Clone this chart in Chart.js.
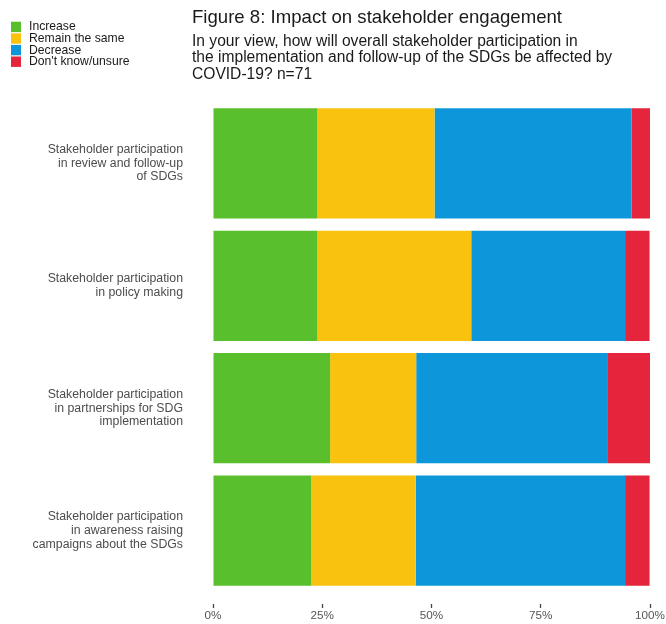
<!DOCTYPE html>
<html>
<head>
<meta charset="utf-8">
<title>Figure 8: Impact on stakeholder engagement</title>
<script src="https://cdn.jsdelivr.net/npm/chart.js@4/dist/chart.umd.min.js"></script>
<style>
  html, body { margin: 0; padding: 0; background: #fff; }
  #wrap { position: relative; width: 666px; height: 624px; }
</style>
</head>
<body>
<div id="wrap"><canvas id="chart"></canvas></div>
<script>
// Categories (top to bottom) and share of answers in % (n=71)
const categories = [
  ['Stakeholder participation', 'in review and follow-up', 'of SDGs'],
  ['Stakeholder participation', 'in policy making'],
  ['Stakeholder participation', 'in partnerships for SDG', 'implementation'],
  ['Stakeholder participation', 'in awareness raising', 'campaigns about the SDGs']
];
const increase = [23.9, 23.9, 26.8, 22.5];
const remainSame = [26.8, 35.2, 19.7, 23.9];
const decrease = [45.1, 35.2, 43.7, 47.9];
const unsure = [4.2, 5.6, 9.9, 5.6];

const seriesNames = ['Increase', 'Remain the same', 'Decrease', "Don't know/unsure"];
const seriesColors = ['#5ABF2C', '#F9C20E', '#0D97DA', '#E4253B'];
const xTicks = [0, 25, 50, 75, 100];

const titleText = 'Figure 8: Impact on stakeholder engagement';
const subtitleLines = [
  'In your view, how will overall stakeholder participation in',
  'the implementation and follow-up of the SDGs be affected by',
  'COVID-19? n=71'
];

const FONT = '"Liberation Sans", Arial, sans-serif';

function toPoints(values) {
  return values.map((v, i) => ({ x: v, y: i }));
}

const allSeries = [increase, remainSame, decrease, unsure];
const datasets = allSeries.map((values, i) => ({
  label: seriesNames[i],
  data: toPoints(values),
  backgroundColor: seriesColors[i],
  borderWidth: 0,
  barPercentage: 0.9,
  categoryPercentage: 1.0
}));

// Title, subtitle and the vertical legend in the top strip
const headerPlugin = {
  id: 'header',
  afterDraw(chart) {
    const ctx = chart.ctx;
    ctx.save();
    ctx.textAlign = 'left';
    ctx.textBaseline = 'alphabetic';
    ctx.fillStyle = '#1a1a1a';
    ctx.font = '18.6px ' + FONT;
    ctx.fillText(titleText, 192, 22.5);
    ctx.font = '15.6px ' + FONT;
    subtitleLines.forEach((line, i) => {
      ctx.fillText(line, 192, 45.7 + i * 16.65);
    });

    ctx.font = '12.2px ' + FONT;
    ctx.textBaseline = 'middle';
    chart.data.datasets.forEach((ds, i) => {
      const top = 21.7 + i * 11.6;
      ctx.fillStyle = ds.backgroundColor;
      ctx.fillRect(11, top, 10, 10.4);
      ctx.fillStyle = '#1a1a1a';
      ctx.fillText(ds.label, 29, top + 5.4);
    });
    ctx.restore();
  }
};

new Chart(document.getElementById('chart'), {
  type: 'bar',
  data: { datasets },
  options: {
    indexAxis: 'y',
    responsive: true,
    maintainAspectRatio: false,
    animation: false,
    layout: { padding: { top: 90, right: 16, bottom: 0, left: 0 } },
    plugins: {
      legend: { display: false },
      title: { display: false },
      tooltip: { enabled: false }
    },
    scales: {
      x: {
        type: 'linear',
        stacked: true,
        min: 0,
        max: 100,
        offset: false,
        afterBuildTicks: (scale) => {
          scale.ticks = xTicks.map(v => ({ value: v }));
        },
        afterFit: (scale) => {
          scale.height = 20;
          scale.paddingLeft = 0;
        },
        border: { display: false },
        grid: {
          offset: false,
          drawOnChartArea: false,
          drawTicks: true,
          tickLength: 4,
          tickWidth: 1.3,
          tickColor: '#444'
        },
        ticks: {
          padding: 1,
          color: '#555',
          font: { family: FONT, size: 11.7 },
          maxRotation: 0,
          callback: (v) => v + '%'
        }
      },
      y: {
        type: 'linear',
        stacked: true,
        reverse: true,
        offset: false,
        min: -0.6,
        max: 3.6,
        afterBuildTicks: (scale) => {
          scale.ticks = categories.map((c, i) => ({ value: i }));
        },
        afterFit: (scale) => {
          scale.width = 213;
          scale.paddingTop = 0;
          scale.paddingBottom = 0;
        },
        border: { display: false },
        grid: { display: false, drawTicks: false, offset: false },
        ticks: {
          padding: 30,
          color: '#4d4d4d',
          font: { family: FONT, size: 12.3, lineHeight: 1.11 },
          callback: (v) => categories[v]
        }
      }
    }
  },
  plugins: [headerPlugin]
});
</script>
</body>
</html>
